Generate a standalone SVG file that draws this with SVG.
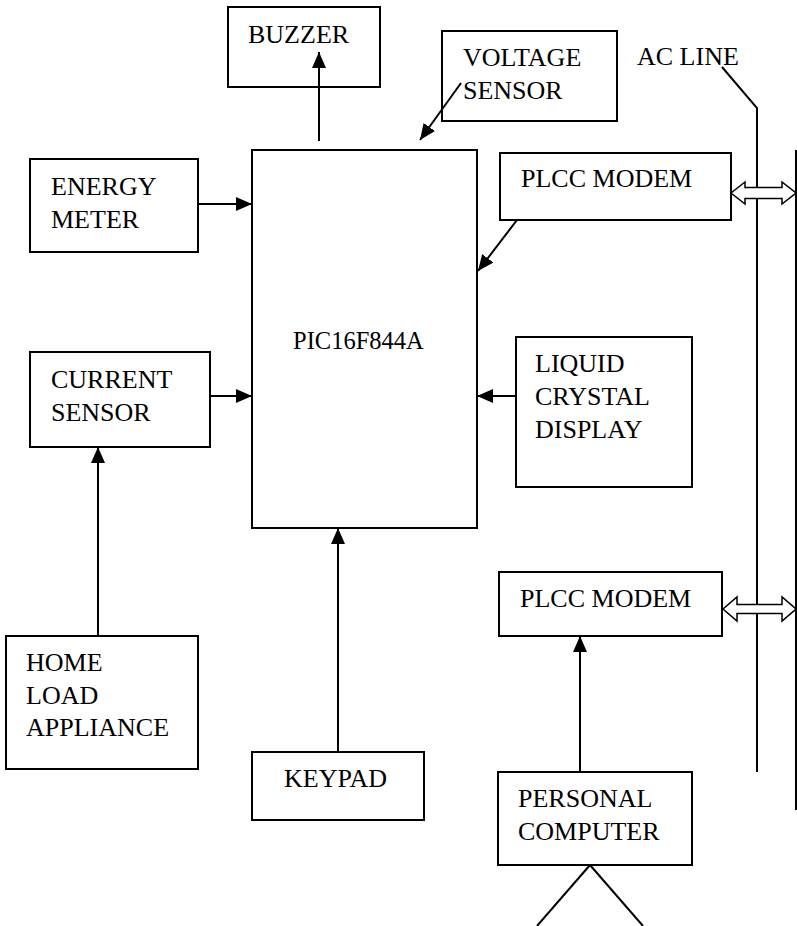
<svg xmlns="http://www.w3.org/2000/svg" width="797" height="926" viewBox="0 0 797 926">
<style>
.box{fill:#fff;stroke:#000;stroke-width:2}
text{font-family:'Liberation Serif','Tinos','Nimbus Roman','Nimbus Roman No9 L','Times New Roman','Times','DejaVu Serif',serif;font-size:26px;fill:#000}
.ln{fill:none;stroke:#000;stroke-width:2}
.ar{fill:none;stroke:#000;stroke-width:2;marker-end:url(#ah)}
.dbl{fill:#fff;stroke:#000;stroke-width:1.5}
</style>
<defs>
<marker id="ah" markerUnits="userSpaceOnUse" markerWidth="16" markerHeight="14" refX="16" refY="7" orient="auto">
<path d="M0,0 L16,7 L0,14 z" fill="#000"/>
</marker>
</defs>
<rect width="797" height="926" fill="#fff"/>
<g id="buzzer"><rect class="box" x="228" y="7" width="152" height="80"/><text x="248" y="43">BUZZER</text></g>
<g id="voltage-sensor"><rect class="box" x="442" y="31" width="175" height="90"/><text x="463" y="66">VOLTAGE</text><text x="463" y="99">SENSOR</text></g>
<g id="ac-line-label"><text x="637" y="65">AC LINE</text></g>
<g id="energy-meter"><rect class="box" x="30" y="159" width="168" height="93"/><text x="51" y="195">ENERGY</text><text x="51" y="228">METER</text></g>
<g id="pic"><rect class="box" x="252" y="150" width="225" height="378"/><text x="293" y="349" style="font-size:24.5px">PIC16F844A</text></g>
<g id="plcc-modem-1"><rect class="box" x="500" y="153" width="231" height="67"/><text x="521" y="187">PLCC MODEM</text></g>
<g id="current-sensor"><rect class="box" x="30" y="352" width="180" height="95"/><text x="51" y="388">CURRENT</text><text x="51" y="421">SENSOR</text></g>
<g id="lcd"><rect class="box" x="516" y="337" width="176" height="150"/><text x="535" y="372">LIQUID</text><text x="535" y="405">CRYSTAL</text><text x="535" y="438">DISPLAY</text></g>
<g id="plcc-modem-2"><rect class="box" x="499" y="572" width="223" height="64"/><text x="520" y="607">PLCC MODEM</text></g>
<g id="home-load"><rect class="box" x="6" y="636" width="192" height="133"/><text x="26" y="671">HOME</text><text x="26" y="704">LOAD</text><text x="26" y="736">APPLIANCE</text></g>
<g id="keypad"><rect class="box" x="252" y="752" width="172" height="68"/><text x="284" y="787">KEYPAD</text></g>
<g id="pc"><rect class="box" x="498" y="772" width="194" height="93"/><text x="518" y="807">PERSONAL</text><text x="518" y="840">COMPUTER</text></g>
<g id="connectors">
<line class="ar" x1="319" y1="141" x2="319" y2="52"/>
<line class="ar" x1="461" y1="83" x2="420" y2="140"/>
<line class="ar" x1="198" y1="204" x2="252" y2="204"/>
<line class="ar" x1="517" y1="220" x2="478" y2="271"/>
<line class="ar" x1="210" y1="396" x2="252" y2="396"/>
<line class="ar" x1="516" y1="396" x2="477" y2="396"/>
<line class="ar" x1="98" y1="636" x2="98" y2="447"/>
<line class="ar" x1="338" y1="752" x2="338" y2="528"/>
<line class="ar" x1="580" y1="772" x2="580" y2="636"/>
<polyline class="ln" points="722,67 757,108 757,772"/>
<line class="ln" x1="796" y1="150" x2="796" y2="810"/>
<line class="ln" x1="590" y1="865" x2="537" y2="926"/>
<line class="ln" x1="590" y1="865" x2="643" y2="926"/>
<polygon class="dbl" points="731,193 745,182 745,187.5 782,187.5 782,182 796,193 782,204 782,198.5 745,198.5 745,204"/>
<polygon class="dbl" points="723,609 737,597 737,604.5 782,604.5 782,597 796,609 782,621 782,613.5 737,613.5 737,621"/>
</g>
</svg>
